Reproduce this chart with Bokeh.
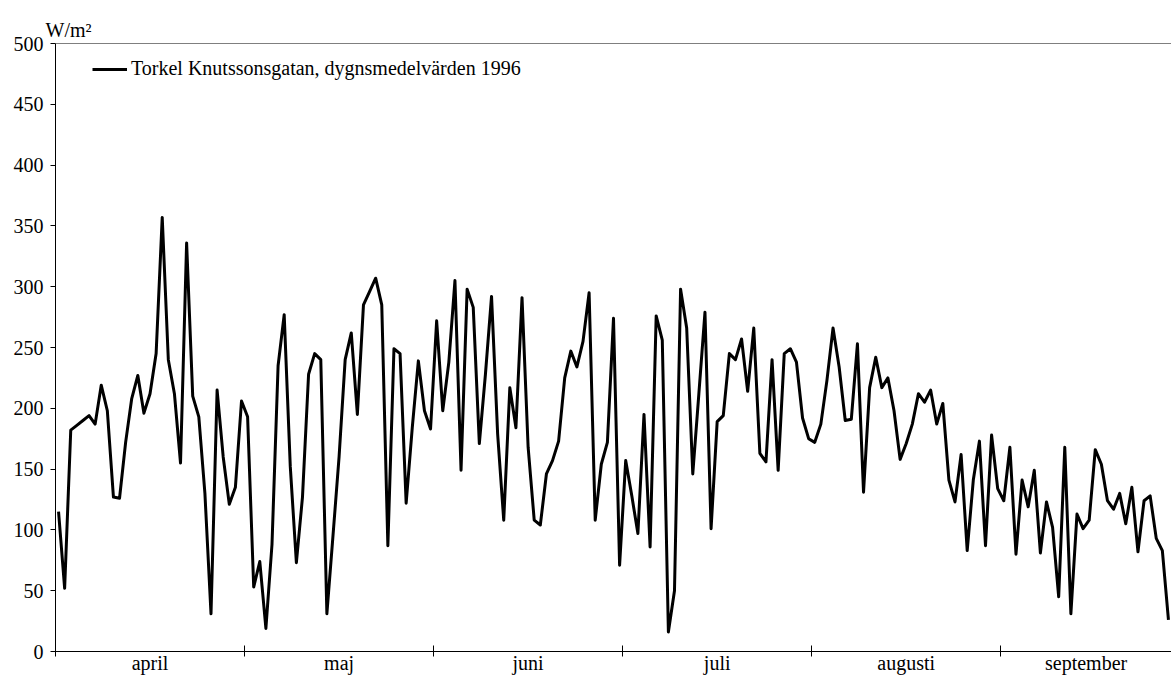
from bokeh.plotting import figure
from bokeh.models import Range1d, FixedTicker, Span
from bokeh.embed import file_html
from bokeh.resources import INLINE

# Daily mean global radiation, W/m2, 1 April - 30 September 1996 (183 days)
solar = [
    115, 52, 182, 186, 190, 194, 187, 219, 198, 127,
    126, 172, 208, 227, 196, 212, 245, 357, 240, 212,
    155, 336, 210, 193, 130, 31, 215, 160, 121, 135,
    206, 193, 53, 74, 19, 88, 235, 277, 152, 73,
    127, 228, 245, 240, 31, 95, 160, 240, 262, 195,
    285, 296, 307, 285, 87, 249, 245, 122, 184, 239,
    198, 183, 272, 198, 238, 305, 149, 298, 283, 171,
    228, 292, 179, 108, 217, 184, 291, 168, 108, 104,
    146, 157, 173, 225, 247, 234, 255, 295, 108, 154,
    172, 274, 71, 157, 128, 97, 195, 86, 276, 256,
    16, 50, 298, 266, 146, 212, 279, 101, 189, 194,
    245, 240, 257, 214, 266, 163, 156, 240, 149, 245,
    249, 238, 192, 175, 172, 187, 223, 266, 234, 190,
    191, 253, 131, 217, 242, 217, 225, 198, 158, 171,
    187, 212, 205, 215, 187, 204, 141, 123, 162, 83,
    141, 173, 87, 178, 134, 124, 168, 80, 141, 119,
    149, 81, 123, 102, 45, 168, 31, 113, 101, 108,
    166, 154, 124, 117, 130, 105, 135, 82, 124, 128,
    93, 83, 26,
]
days = list(range(len(solar)))

months = ["april", "maj", "juni", "juli", "augusti", "september"]
month_start_index = [0, 31, 62, 93, 124, 155]   # category index where each month tick sits
y_ticks = [0, 50, 100, 150, 200, 250, 300, 350, 400, 450, 500]
series_name = "Torkel Knutssonsgatan, dygnsmedelvärden 1996"
unit_label = "W/m²"

FONT = "Liberation Serif"

n = len(solar)
edges = [s - 0.5 for s in month_start_index]
ends = edges[1:] + [n - 0.5]
centers = [(a + b) / 2 for a, b in zip(edges, ends)]

p = figure(width=1171, height=676, output_backend="svg", toolbar_location=None,
           x_range=Range1d(-0.5, n - 0.5), y_range=Range1d(0, 500),
           min_border_left=55, min_border_right=0, min_border_top=43,
           min_border_bottom=24, title=unit_label)
p.background_fill_color = "white"
p.border_fill_color = "white"
p.outline_line_color = None
p.xgrid.visible = False
p.ygrid.visible = False

# unit label as left-aligned title above the y axis
p.title.align = "left"
p.title.offset = -10
p.title.standoff = 6
p.title.text_font = FONT
p.title.text_font_size = "20px"
p.title.text_font_style = "normal"
p.title.text_color = "black"

p.line(days, solar, line_color="black", line_width=3, line_join="round",
       legend_label=series_name)

# x axis: month boundary ticks (minor) and centred month labels (major, hidden ticks)
xa = p.xaxis[0]
xa.ticker = FixedTicker(ticks=centers, minor_ticks=edges)
xa.major_label_overrides = {c: m for c, m in zip(centers, months)}
xa.major_tick_line_color = None
xa.major_tick_in = 0
xa.major_tick_out = 0
xa.minor_tick_line_color = "black"
xa.minor_tick_in = 6
xa.minor_tick_out = 5
xa.axis_line_color = "black"
xa.major_label_standoff = -5
xa.major_label_text_font = FONT
xa.major_label_text_font_size = "20px"
xa.major_label_text_color = "black"

ya = p.yaxis[0]
ya.ticker = FixedTicker(ticks=y_ticks)
ya.minor_tick_line_color = None
ya.major_tick_in = 0
ya.major_tick_out = 5
ya.major_tick_line_color = "black"
ya.axis_line_color = "black"
ya.major_label_standoff = 7
ya.major_label_text_font = FONT
ya.major_label_text_font_size = "20px"
ya.major_label_text_color = "black"

# top border line
p.add_layout(Span(location=500, dimension="width", line_color="black", line_width=1))

lg = p.legend[0]
lg.location = (37, 571)
lg.margin = 0
lg.padding = 0
lg.border_line_color = None
lg.background_fill_alpha = 0
lg.glyph_width = 35
lg.glyph_height = 20
lg.label_height = 20
lg.label_standoff = 4
lg.label_text_font = FONT
lg.label_text_font_size = "20px"
lg.label_text_color = "black"

open("out.html", "w").write(file_html(p, INLINE))
